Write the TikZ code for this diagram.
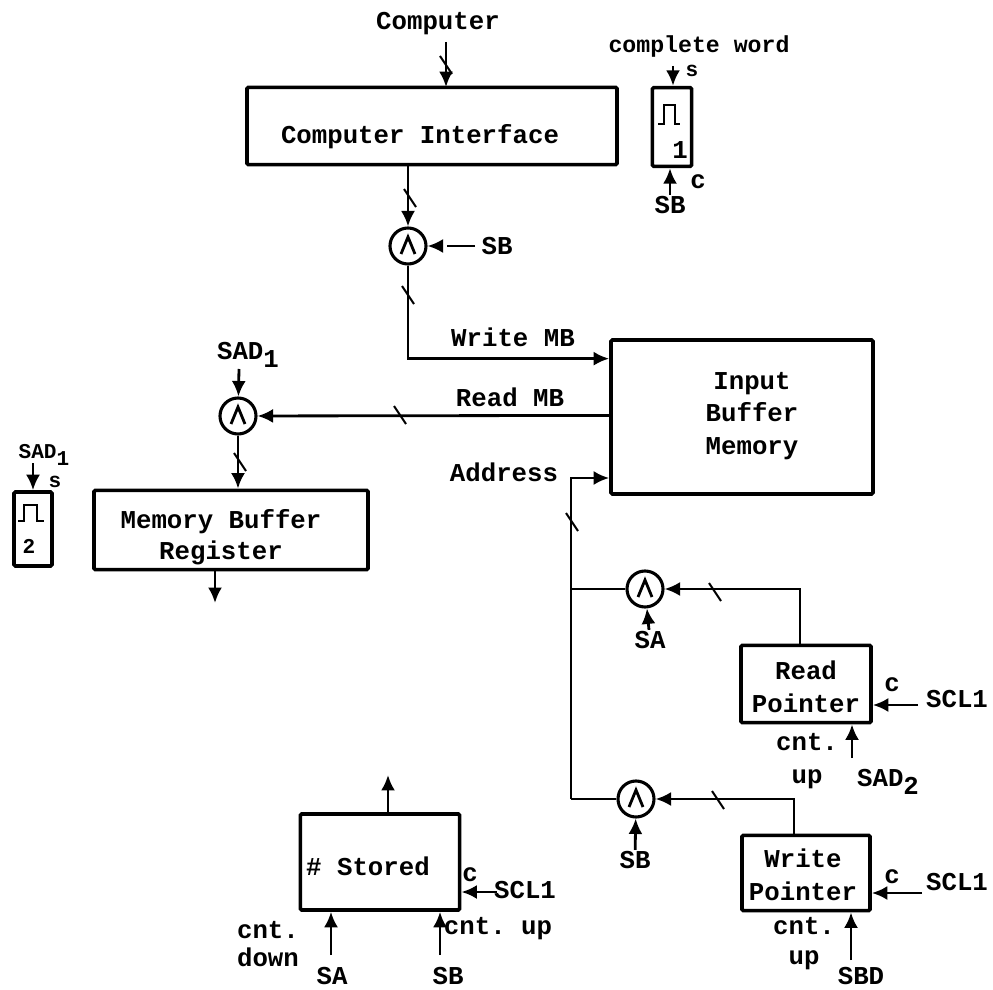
\documentclass[tikz,border=0pt]{standalone}
\usepackage{fontspec}
\setmonofont{Liberation Mono}
\usepackage{tikz}
\usetikzlibrary{arrows.meta,calc}
\tikzset{
    blockbox/.style={draw,rectangle,line width=2.6pt,rounded corners=1pt,inner sep=0pt},
    gatenode/.style={draw,circle,line width=2.2pt,minimum size=0.9cm,inner sep=0pt},
    txt/.style={inner sep=0pt,font=\fontsize{18.3}{18.3}\selectfont\ttfamily\bfseries},
    smalltxt/.style={inner sep=0pt,font=\fontsize{15}{15}\selectfont\ttfamily\bfseries},
    busmark/.style={line width=1.4pt}
}
\newcommand{\busmark}[1]{\draw[busmark] (#1) ++(-6,-9) -- ++(12,18);}
\newcommand{\gatewedge}[1]{\draw ([shift={(-7,8)}]#1.center) -- ++(7,-17) -- ++(7,17);}
\newcommand{\lowdigit}[1]{\raisebox{-0.55ex}{#1}}
\begin{document}
\begin{tikzpicture}[line width=2pt,>={Latex[length=11pt,width=10pt]},x=0.025cm,y=-0.025cm]
        \useasboundingbox (0,0) rectangle (993,990);
        \node[blockbox,minimum width=9.25cm,minimum height=1.93cm] (CI) at (432,126) {};
        \node[txt] (CIt) at (420,137) {Computer Interface};
        \node[txt] (Cp) at (438,24) {Computer};
        \coordinate (CpOut) at (446,42);
        \coordinate (CpIn) at (446,87);
        \draw[->] (CpOut) -- (CpIn);
        \busmark{446,65}
        \node[gatenode] (GA) at (408,246) {};
        \gatewedge{GA}
        \draw[->] (CI.south -| GA) -- (GA);
        \busmark{410,198}
        \node[txt] (SBa) at (497,246) {SB};
        \coordinate (SBaEnd) at (475,246);
        \coordinate (SBaGap) at (447,246);
        \coordinate (SBaStub) at (440,246);
        \draw (SBaEnd) -- (SBaGap);
        \draw[->] (SBaStub) -- (GA);
        \node[blockbox,minimum width=6.55cm,minimum height=3.85cm] (IBM) at (742,417) {};
        \node[txt,align=center] (IBMt) at (752,416) {Input\\[5pt]Buffer\\[5pt]Memory};
        \draw[->] (GA) |- ($(IBM.north west)!0.13!(IBM.south west)$);
        \busmark{408,295}
        \node[txt] (WMB) at (513,337) {Write MB};
        \node[gatenode] (GB) at (238,416) {};
        \gatewedge{GB}
        \draw[->] ($(IBM.north west)!0.49!(IBM.south west)$) -- (GB);
        \busmark{400,415}
        \node[txt] (RMB) at (510,397) {Read MB};
        \node[txt] (SADa) at (248,355) {SAD\lowdigit{1}};
        \coordinate (SADaEnd) at (239,369);
        \draw[->] (SADaEnd) -- (GB);
        \node[blockbox,minimum width=6.85cm,minimum height=1.98cm] (MBR) at (231,530) {};
        \node[txt,align=center] (MBRt) at (221,537) {Memory Buffer\\[4pt]Register};
        \draw[->] (GB) -- (GB |- MBR.north);
        \busmark{240,462}
        \coordinate (MBROut) at (215,603);
        \draw[->] (MBR.south -| MBROut) -- (MBROut);
        \node[txt] (Adr) at (504,472) {Address};
        \coordinate (BusTop) at (571,478);
        \coordinate (BusMid) at (571,589);
        \coordinate (BusBot) at (571,799);
        \draw[->] (BusBot) -- (BusTop) -- (BusTop -| IBM.west);
        \busmark{572,522}
        \node[gatenode] (GC) at (645,589) {};
        \gatewedge{GC}
        \draw (BusMid) -- (GC);
        \node[txt] (SAa) at (650,640) {SA};
        \draw[->] (SAa) -- (GC);
        \node[blockbox,minimum width=3.25cm,minimum height=1.93cm] (RP) at (806,684) {};
        \node[txt,align=center] (RPt) at (806,687) {Read\\[5pt]Pointer};
        \coordinate (RPKnee) at (800,589);
        \draw[->] (RP.north -| RPKnee) -- (RPKnee) -- (GC);
        \busmark{715,592}
        \node[txt] (Ca) at (892,685) {c};
        \node[txt] (SCLa) at (957,699) {SCL1};
        \coordinate (SCLaEnd) at (918,705);
        \draw[->] (SCLaEnd) -- (SCLaEnd -| RP.east);
        \node[txt,align=center] (CUa) at (807,761) {cnt.\\[5pt]up};
        \node[txt] (SADb) at (888,782) {SAD\lowdigit{2}};
        \coordinate (SADbEnd) at (852,758);
        \draw[->] (SADbEnd) -- (SADbEnd |- RP.south);
        \node[gatenode] (GD) at (636,799) {};
        \gatewedge{GD}
        \draw (BusBot) -- (GD);
        \node[txt] (SBb) at (635,860) {SB};
        \draw[->] (SBb) -- (GD);
        \node[blockbox,minimum width=3.2cm,minimum height=1.88cm] (WP) at (806,873) {};
        \node[txt,align=center] (WPt) at (803,875) {Write\\[5pt]Pointer};
        \coordinate (WPKnee) at (794,799);
        \draw[->] (WP.north -| WPKnee) -- (WPKnee) -- (GD);
        \busmark{718,800}
        \node[txt] (Cb) at (892,877) {c};
        \node[txt] (SCLb) at (957,882) {SCL1};
        \coordinate (SCLbEnd) at (922,893);
        \draw[->] (SCLbEnd) -- (SCLbEnd -| WP.east);
        \node[txt,align=center] (CUb) at (804,944) {cnt.\\[3pt]up};
        \node[txt] (SBD) at (861,976) {SBD};
        \coordinate (SBDEnd) at (851,960);
        \draw[->] (SBDEnd) -- (SBDEnd |- WP.south);
        \node[blockbox,minimum width=3.98cm,minimum height=2.4cm] (NS) at (380,862) {};
        \node[txt] (NSt) at (368,866) {\# Stored};
        \coordinate (NSOut) at (388,775);
        \draw[->] (NS.north -| NSOut) -- (NSOut);
        \node[txt] (Cc) at (470,875) {c};
        \node[txt] (SCLc) at (525,890) {SCL1};
        \coordinate (SCLcEnd) at (497,892);
        \draw[->] (SCLcEnd) -- (SCLcEnd -| NS.east);
        \node[txt,align=center] (CD) at (268,944) {cnt.\\[2pt]down};
        \node[txt] (CUc) at (498,929) {cnt. up};
        \node[txt] (SAb) at (332,976) {SA};
        \coordinate (SAbEnd) at (331,955);
        \draw[->] (SAbEnd) -- (SAbEnd |- NS.south);
        \node[txt] (SBc) at (448,976) {SB};
        \coordinate (SBcEnd) at (440,955);
        \draw[->] (SBcEnd) -- (SBcEnd |- NS.south);
        \node[blockbox,minimum width=0.98cm,minimum height=1.97cm] (FA) at (672,127) {};
        \node[txt] (FAn) at (680,150) {1};
        \draw (658,124) -- (664,124) -- (664,105) -- (675,105) -- (675,124) -- (680,124);
        \node[txt,font=\fontsize{16.5}{16.5}\selectfont\ttfamily\bfseries] (CW) at (699,47) {complete word};
        \node[smalltxt] (Sa) at (692,71) {s};
        \node[txt] (Cd) at (698,182) {c};
        \node[txt] (SBe) at (670,205) {SB};
        \coordinate (FAIn) at (673,66);
        \draw[->] (FAIn) -- (FAIn |- FA.north);
        \draw[->] (SBe) -- (SBe |- FA.south);
        \node[blockbox,minimum width=0.95cm,minimum height=1.85cm] (FB) at (33,529) {};
        \node[smalltxt] (FBn) at (29,546) {2};
        \draw (18,521) -- (24,521) -- (24,505) -- (37,505) -- (37,521) -- (44,521);
        \node[smalltxt] (SADc) at (44,455) {SAD\lowdigit{1}};
        \node[smalltxt] (Sb) at (55,482) {s};
        \coordinate (FBIn) at (33,463);
        \draw[->] (FBIn) -- (FBIn |- FB.north);
    \end{tikzpicture}
\end{document}
